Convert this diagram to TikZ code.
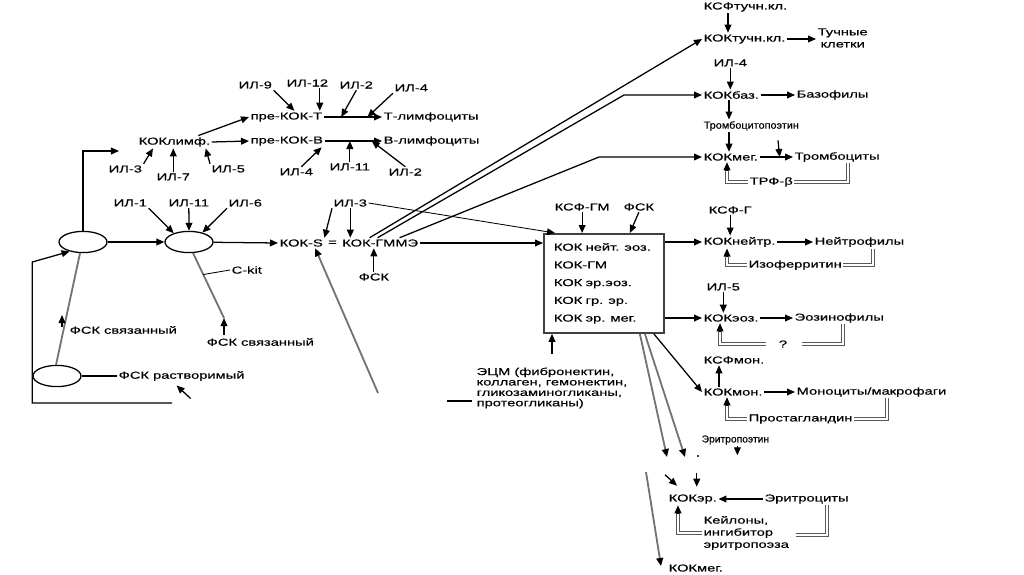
\documentclass[tikz,border=0pt]{standalone}
\usepackage{fontspec}
\usepackage{graphicx}
\setmainfont[FakeStretch=1.45, FakeBold=0.4]{Liberation Sans}
\usetikzlibrary{arrows.meta,positioning,shapes.geometric,calc}
\newcommand{\diagfont}{\fontsize{7.2}{8.6}\selectfont}
\tikzset{
  lab/.style={inner sep=1pt, font=\diagfont, anchor=west},
  cell/.style={ellipse, draw, line width=0.9pt, minimum width=1.2cm, minimum height=0.53cm, inner sep=0pt},
  gmbox/.style={draw=black!75, line width=1.3pt, text width=2.5cm, inner xsep=0.25cm,
                minimum height=2.475cm, align=left, font=\diagfont, anchor=north west},
  ln/.style={line width=0.9pt},
  arr/.style={ln, -{Triangle[length=2mm, width=1.7mm]}},
  thinarr/.style={arr, line width=0.6pt},
  garr/.style={draw=black!55, line width=1.3pt, -{Triangle[length=2mm, width=1.7mm, black]}},
  gln/.style={draw=black!55, line width=1.3pt},
  fb/.style={draw=black!65, double=white, double distance=1.4pt, line width=0.7pt},
}
\begin{document}
\begin{tikzpicture}[x=0.025cm, y=-0.025cm]
  \useasboundingbox (0,0) rectangle (1024,574);

  \node[cell] (c1) at (83,242) {};
  \node[cell] (c2) at (189,242) {};
  \node[cell] (c3) at (57,376) {};

  \node[lab] (kokl) at (137,142) {КОКлимф.};
  \node[lab] (il3a) at (107,169) {ИЛ-3};
  \node[lab] (il7) at (155,177) {ИЛ-7};
  \node[lab] (il5a) at (210,169) {ИЛ-5};
  \node[lab] (preT) at (249,117) {пре-КОК-Т};
  \node[lab] (preB) at (249,141) {пре-КОК-В};
  \node[lab] (tl) at (382,117) {Т-лимфоциты};
  \node[lab] (bl) at (382,141) {В-лимфоциты};
  \node[lab] (il9) at (237,85) {ИЛ-9};
  \node[lab] (il12) at (285,83) {ИЛ-12};
  \node[lab] (il2a) at (338,85) {ИЛ-2};
  \node[lab] (il4a) at (393,88) {ИЛ-4};
  \node[lab] (il4b) at (278,172) {ИЛ-4};
  \node[lab] (il11b) at (328,167) {ИЛ-11};
  \node[lab] (il2b) at (387,172) {ИЛ-2};
  \node[lab] (il1) at (112,203) {ИЛ-1};
  \node[lab] (il11) at (167,203) {ИЛ-11};
  \node[lab] (il6) at (227,203) {ИЛ-6};

  \node[lab] (kokS) at (278,243) {КОК-S};
  \node[lab, right=1.5pt of kokS] (eq) {=};
  \node[lab, right=1.5pt of eq] (gmme) {КОК-ГММЭ};
  \node[lab] (il3c) at (332,203) {ИЛ-3};
  \node[lab] (fsk1) at (357,277) {ФСК};
  \node[lab] (ckit) at (230,270) {C-kit};
  \node[lab] (fsks1) at (68,330) {ФСК связанный};
  \node[lab] (fsks2) at (205,342) {ФСК связанный};
  \node[lab] (fskr) at (117,376) {ФСК растворимый};

  \node[gmbox] (gm) at (543,233) {КОК нейт. эоз.\\[4pt]КОК-ГМ\\[4pt]КОК эр.эоз.\\[4pt]КОК гр. эр.\\[4pt]КОК эр. мег.};
  \node[lab] (ksfgm) at (553,207) {КСФ-ГМ};
  \node[lab] (fsk2) at (622,207) {ФСК};
  \node[lab, align=left, font=\fontsize{7.2}{7.4}\selectfont] (ecm) at (475,388)
    {ЭЦМ (фибронектин,\\коллаген, гемонектин,\\гликозаминогликаны,\\протеогликаны)};

  \node[lab] (ksft) at (702,7) {КСФтучн.кл.};
  \node[lab] (kokt) at (702,39) {КОКтучн.кл.};
  \node[lab, align=center] (tk) at (816,38) {Тучные\\клетки};
  \node[lab] (il4c) at (712,63) {ИЛ-4};
  \node[lab] (kokb) at (702,95) {КОКбаз.};
  \node[lab] (bas) at (795,95) {Базофилы};
  \node[lab] (tpo) at (702,126) {\scalebox{0.74}[1]{Тромбоцитопоэтин}};
  \node[lab] (kokm) at (702,157) {КОКмег.};
  \node[lab] (tromb) at (793,157) {Тромбоциты};
  \node[lab] (trf) at (748,182) {ТРФ-β};
  \node[lab] (ksfg) at (707,210) {КСФ-Г};
  \node[lab] (kokn) at (702,242) {КОКнейтр.};
  \node[lab] (neut) at (813,242) {Нейтрофилы};
  \node[lab] (isof) at (747,265) {Изоферритин};
  \node[lab] (il5c) at (705,287) {ИЛ-5};
  \node[lab] (kokeo) at (702,318) {КОКэоз.};
  \node[lab] (eos) at (793,318) {Эозинофилы};
  \node[lab, anchor=center] (q) at (783,344) {?};
  \node[lab] (ksfmon) at (702,360) {КСФмон.};
  \node[lab] (kokmon) at (702,392) {КОКмон.};
  \node[lab] (mono) at (795,392) {Моноциты/макрофаги};
  \node[lab] (prost) at (747,419) {Простагландин};
  \node[lab] (epo) at (700,440) {\scalebox{0.7}[1]{Эритропоэтин}};
  \node[lab] (koke) at (667,499) {КОКэр.};
  \node[lab] (ery) at (763,499) {Эритроциты};
  \node[lab, align=left] (keil) at (702,533) {Кейлоны,\\ингибитор\\эритропоэза};
  \node[lab] (kokm2) at (667,568) {КОКмег.};

  \coordinate (fb0) at (172,403);
  \coordinate (lo) at (378,393);
  \coordinate (kit) at ($(fsks2.west)+(19,-24)$);

  \draw[arr] (c1) -- (c2);
  \draw[arr] (c1.north) |- ($(kokl.west)+(-18,9)$);
  \draw[arr] (fb0) -| ($(c1.west)+(-26,20)$) -- (c1.215);
  \draw[ln] (c3.east) -- (fskr.west);
  \draw[arr] ($(fskr.south)+(9,16)$) -- ($(fskr.south)+(-5,3)$);
  \draw[gln] (c1.255) -- (c3.95);
  \draw[arr] ($(fsks1.west)+(-6,-3)$) -- ++(0,-12);
  \draw[gln] (c2.290) -- (kit);
  \draw[arr] ($(fsks2.west)+(19,-7)$) -- (kit);
  \draw[line width=0.6pt] (ckit.west) -- ($(c2.290)!0.33!(kit)$);

  \draw[arr] (il1.south east) -- (c2.150);
  \draw[arr] (il11.south) -- (c2.north);
  \draw[arr] (il6.south west) -- (c2.35);

  \draw[arr] (il3a.north east) -- ($(kokl.south west)+(16,0)$);
  \draw[arr] (il7.north) -- (il7.north |- kokl.south);
  \draw[arr] (il5a.north west) -- ($(kokl.south east)+(-6,0)$);
  \draw[arr] (kokl.15) -- (preT.west);
  \draw[arr] (kokl.east) -- (preB.west);

  \draw[arr] (preT) -- (tl);
  \draw[arr] (preB) -- (bl);
  \draw[arr] (il9.south east) -- ($(preT.north)+(8,0)$);
  \draw[arr] ([xshift=-0.25cm]il12.south east) -- ([xshift=-0.25cm]il12.south east |- preT.north);
  \draw[arr] (il2a.south) -- ($(preT.east)!0.3!(tl.west)$);
  \draw[arr] (il4a.south west) -- ($(preT.east)!0.75!(tl.west)$);
  \draw[arr] ($(il4b.north)+(5,0)$) -- ($(preB.south east)+(-3,0)$);
  \draw[arr] (il11b.north) -- (il11b.north |- preB.east);
  \draw[arr] (il2b.north) -- ($(preB.east)!0.82!(bl.west)$);

  \draw[arr] (c2) -- (kokS.west);
  \draw[arr] (il3c.south west) -- (kokS.north east);
  \draw[arr] (il3c.south) -- (il3c.south |- gmme.north);
  \draw[thinarr] (il3c.east) -- ($(gm.north west)+(12,0)$);
  \draw[arr] (fsk1.north) -- (fsk1.north |- gmme.south);
  \draw[garr] (lo) -- ($(kokS.south)+(14,0)$);
  \draw[arr] (gmme.east) -- (gmme.east -| gm.west);
  \draw[arr] ($(gmme.north west)+(29,0)$) -- (kokt.west);
  \draw[arr] ($(gmme.north west)+(37,0)$) -- ($(kokb.west)+(-78,0)$) -- (kokb.west);
  \draw[arr] ($(gmme.north west)+(59,0)$) -- ($(kokm.west)+(-103,0)$) -- (kokm.west);

  \draw[arr] (ksfgm.south) -- (ksfgm.south |- gm.north);
  \draw[arr] (fsk2.south) -- ($(gm.north east)+(-35,0)$);
  \draw[arr] ($(ecm.north west)+(77,-12)$) -- ($(gm.south west)+(9,0)$);
  \draw[ln] ($(ecm.west)+(-28,13)$) -- ++(25,0);
  \draw[arr] (kokn.west -| gm.east) -- (kokn.west);
  \draw[arr] (kokeo.west -| gm.east) -- (kokeo.west);
  \draw[arr] ($(gm.south east)+(-11,0)$) -- (kokmon.west);
  \draw[garr] ($(gm.south east)+(-25,0)$) -- ($(koke.west)+(0,-42)$);
  \draw[garr] ($(gm.south east)+(-20,0)$) -- ($(koke.west)+(18,-42)$);
  \fill ($(koke.west)+(31,-43)$) circle (0.8pt);
  \draw[arr] ($(koke.north west)+(-2,-18)$) -- ($(koke.north west)+(10,-7)$);
  \draw[arr] ($(koke.north)+(4,-20)$) -- ($(koke.north)+(4,-6)$);
  \draw[garr] ($(kokm2.west)+(-21,-96)$) -- ($(kokm2.west)+(-6,-2)$);
  \draw[arr] ($(epo.south)+(2,0)$) -- ++(0,9);

  \draw[arr] ($(ksft.south west)+(26,0)$) -- ($(kokt.north west)+(26,0)$);
  \draw[arr] (kokt.east) -- (kokt.east -| tk.west);
  \draw[arr] (il4c.south) -- (il4c.south |- kokb.north);
  \draw[arr] (kokb.east) -- (bas.west);
  \draw[arr] ($(kokb.south west)+(27,0)$) -- ($(tpo.north west)+(27,0)$);
  \draw[arr] ($(tpo.south west)+(27,0)$) -- ($(kokm.north west)+(27,0)$);
  \draw[arr] (kokm.east) -- (tromb.west);
  \draw[arr] ($(tpo.south west)+(76,8)$) -- ($(kokm.east)!0.6!(tromb.west)$);
  \draw[fb] ($(tromb.south west)+(55,0)$) |- (trf.east);
  \draw[fb] (trf.west) -| ($(kokm.south west)+(25,8)$);
  \draw[arr] ($(kokm.south west)+(25,8)$) -- ($(kokm.south west)+(25,0)$);

  \draw[arr] (ksfg.south) -- (ksfg.south |- kokn.north);
  \draw[arr] (kokn.east) -- (neut.west);
  \draw[fb] ($(neut.south west)+(60,0)$) |- (isof.east);
  \draw[fb] (isof.west) -| ($(kokn.south west)+(25,8)$);
  \draw[arr] ($(kokn.south west)+(25,8)$) -- ($(kokn.south west)+(25,0)$);

  \draw[arr] (il5c.south) -- (il5c.south |- kokeo.north);
  \draw[arr] (kokeo.east) -- (eos.west);
  \draw[fb] ($(eos.south west)+(50,0)$) |- ($(q.east)+(13,0)$);
  \draw[fb] ($(q.west)+(-11,0)$) -| ($(kokeo.south west)+(18,8)$);
  \draw[arr] ($(kokeo.south west)+(18,8)$) -- ($(kokeo.south west)+(18,0)$);

  \draw[arr] ($(kokmon.north west)+(17,0)$) -- ($(ksfmon.south west)+(17,0)$);
  \draw[arr] (kokmon.east) -- (mono.west);
  \draw[fb] ($(mono.south west)+(92,0)$) |- (prost.east);
  \draw[fb] (prost.west) -| ($(kokmon.south west)+(25,8)$);
  \draw[arr] ($(kokmon.south west)+(25,8)$) -- ($(kokmon.south west)+(25,0)$);

  \draw[arr] (ery.west) -- (koke.east);
  \draw[fb] ($(ery.south west)+(64,0)$) |- ($(keil.east)+(5,2)$);
  \draw[fb] (keil.west) -| ($(koke.south west)+(11,8)$);
  \draw[arr] ($(koke.south west)+(11,8)$) -- ($(koke.south west)+(11,0)$);
\end{tikzpicture}
\end{document}
